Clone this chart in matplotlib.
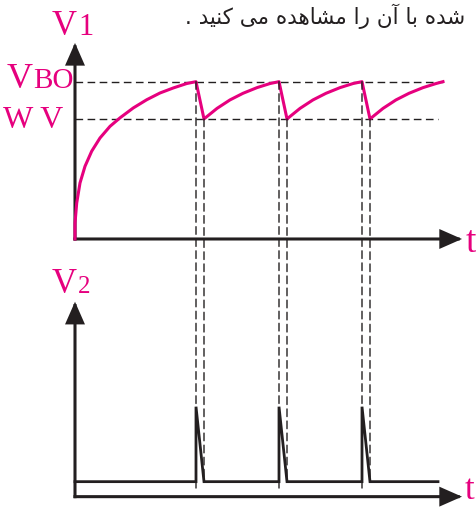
import matplotlib.pyplot as plt
from matplotlib.patches import ConnectionPatch

MAGENTA = '#E6007E'
INK = '#231F20'

# upper trace (V1); time in arbitrary units
v1_t = [0, 0, 0.17, 0.5, 1.0, 1.67, 2.5, 3.5, 4.5, 5.83, 7.17, 8.5, 9.83, 11.17, 12.1,
        12.9, 14.2, 15.5, 16.8, 18.2, 19.5, 20.4,
        21.2, 22.5, 23.8, 25.1, 26.5, 27.8, 28.7,
        29.5, 30.8, 32.1, 33.4, 34.8, 36.1, 36.8]
v1_v = [0, 1.0, 2.28, 3.56, 4.62, 5.58, 6.42, 7.16, 7.7, 8.33, 8.85, 9.28, 9.6, 9.88, 10.0,
        7.63, 8.3, 8.84, 9.26, 9.62, 9.88, 10.0,
        7.63, 8.3, 8.84, 9.26, 9.62, 9.88, 10.0,
        7.63, 8.3, 8.84, 9.26, 9.62, 9.88, 10.0]
v_bo = 10.0
v_wv = 7.63

# lower trace (V2): pulses at each discharge
v2_t = [0, 12.1, 12.1, 12.9, 20.4, 20.4, 21.2, 28.7, 28.7, 29.5, 36.3]
v2_v = [1, 1, 6, 1, 1, 6, 1, 1, 6, 1, 1]
v2_base = 1.0

peak_t = [12.1, 20.4, 28.7]
trough_t = [12.9, 21.2, 29.5]

# persian caption line, glyphs in visual order
caption = ' '.join([
    '.',
    '\uFEAA\uFBFF\uFEE8\uFB90',
    '\uFBFD\uFEE3',
    '\uFEE9\uFEAA\uFEEB\uFE8E\uFEB8\uFEE3',
    '\uFE8D\uFEAD',
    '\uFEE5\uFE81',
    '\uFE8E\uFE91',
    '\uFEE9\uFEAA\uFEB7',
])

fig = plt.figure(figsize=(4.77, 5.07), dpi=100)
ax1 = fig.add_axes([0, 257 / 507, 1, 250 / 507])
ax2 = fig.add_axes([0, 0, 1, 257 / 507])
for ax in (ax1, ax2):
    ax.set_xlim(-7.5, 40.2)
    ax.axis('off')
ax1.set_ylim(-0.70, 15.19)
ax2.set_ylim(-0.69, 16.45)

arrow = dict(arrowstyle='-|>,head_length=1.25,head_width=0.55', mutation_scale=10,
             lw=2.2, color=INK, shrinkA=0, shrinkB=0, capstyle='projecting',
             joinstyle='miter')
t_end = 38.7
ax1.annotate('', xy=(0, 12.46), xytext=(0, 0), arrowprops=arrow)
ax1.annotate('', xy=(t_end, 0), xytext=(0, 0), arrowprops=arrow)
ax2.annotate('', xy=(0, 13.0), xytext=(0, 0), arrowprops=arrow)
ax2.annotate('', xy=(t_end, 0), xytext=(0, 0), arrowprops=arrow)

dash = (0, (5.5, 3.2))
ax1.plot([0, 36.8], [v_bo, v_bo], color=INK, lw=1.0, ls=dash)
ax1.plot([0, 36.3], [v_wv, v_wv], color=INK, lw=1.0, ls=dash)
for t in peak_t:
    fig.add_artist(ConnectionPatch(xyA=(t, v_bo), coordsA='data', axesA=ax1,
                                   xyB=(t, 0.3), coordsB='data', axesB=ax2,
                                   color=INK, lw=1.0, ls=dash))
for t in trough_t:
    fig.add_artist(ConnectionPatch(xyA=(t, v_wv), coordsA='data', axesA=ax1,
                                   xyB=(t, v2_base), coordsB='data', axesB=ax2,
                                   color=INK, lw=1.0, ls=dash))

ax1.plot(v1_t, v1_v, color=MAGENTA, lw=2.2, solid_joinstyle='round', zorder=5)
ax2.plot(v2_t, v2_v, color=INK, lw=2.0, solid_joinstyle='miter', zorder=5)

serif = dict(family='Liberation Serif', color=MAGENTA, va='baseline',
             textcoords='offset pixels')
ax1.annotate('V', xy=(0, 12.46), xytext=(2, 8), ha='right', size=25, **serif)
ax1.annotate('1', xy=(0, 12.46), xytext=(3, 8), ha='left', size=22, **serif)
ax1.annotate('V', xy=(0, v_bo), xytext=(-42, -6), ha='right', size=26, **serif)
ax1.annotate('BO', xy=(0, v_bo), xytext=(-42, -6), ha='left', size=21, **serif)
ax1.annotate('W V', xy=(0, v_wv), xytext=(-12, -9), ha='right', size=23, **serif)
ax1.annotate('t', xy=(t_end, 0), xytext=(4, -13), ha='left', size=27, **serif)

ax2.annotate('V', xy=(0, 13.0), xytext=(2, 9), ha='right', size=25, **serif)
ax2.annotate('2', xy=(0, 13.0), xytext=(3, 9), ha='left', size=18, **serif)
ax2.annotate('t', xy=(t_end, 0), xytext=(3, -2), ha='left', size=25, **serif)

fig.text(185 / 477, 1 - 24 / 507, caption, ha='left', va='baseline',
         size=15.5, family=['DejaVu Sans'], color=INK)

fig.savefig('out.png', dpi=100)
